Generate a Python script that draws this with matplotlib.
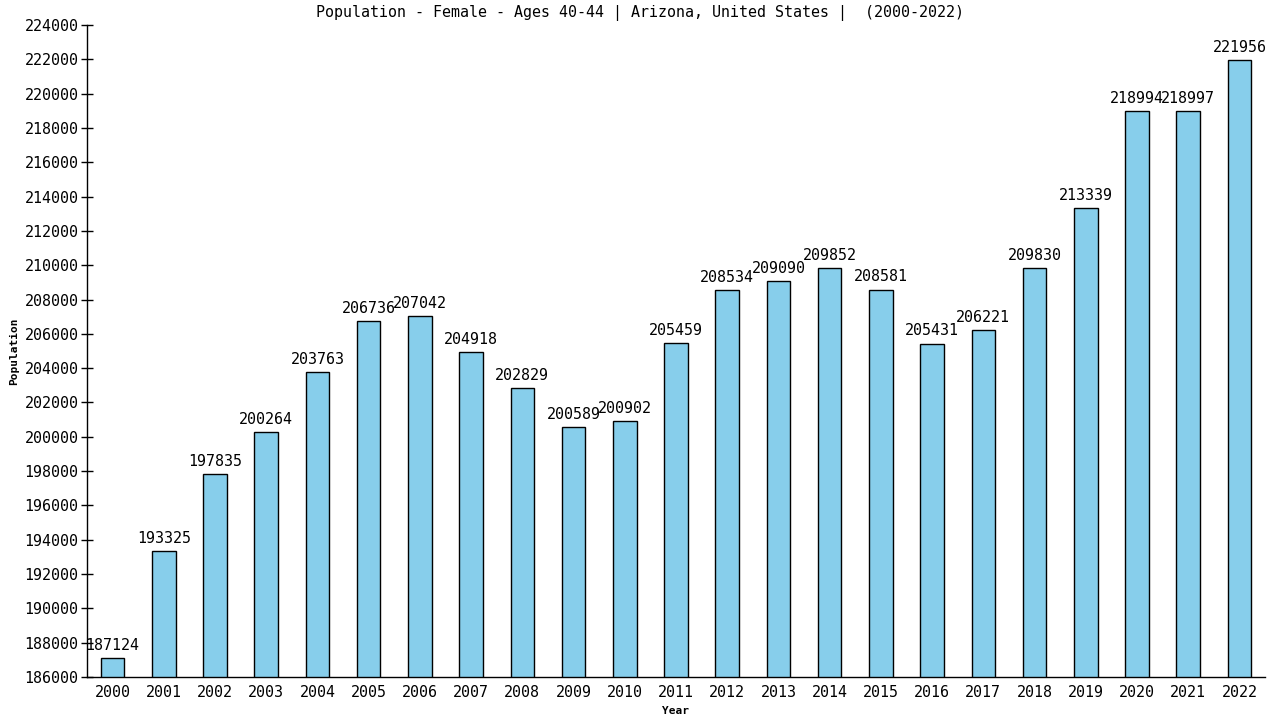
import matplotlib
matplotlib.use("Agg")
import matplotlib.pyplot as plt

years = [str(y) for y in range(2000, 2023)]
values = [187124, 193325, 197835, 200264, 203763, 206736, 207042, 204918, 202829,
          200589, 200902, 205459, 208534, 209090, 209852, 208581, 205431, 206221,
          209830, 213339, 218994, 218997, 221956]
yticks = list(range(186000, 224001, 2000))

plt.rcParams['font.family'] = ['DejaVu Sans Mono', 'DejaVu Sans']

fig = plt.figure(figsize=(12.8, 7.2), dpi=100)
ax = fig.add_axes([87/1280, 43/720, (1265-87)/1280, (677-25)/720])

x = list(range(len(years)))
ax.bar(x, values, width=0.46, color='#87CEEB', edgecolor='black', linewidth=1.0, zorder=2)
for xi, v in zip(x, values):
    ax.text(xi, v + 300, str(v), ha='center', va='bottom', fontsize=10.8, color='black')

ax.set_xlim(-0.5, len(years) - 0.5)
ax.set_ylim(186000, 224000)
ax.set_yticks(yticks)
ax.set_yticklabels([str(t) for t in yticks], fontsize=10.8)
ax.set_xticks(x)
ax.set_xticklabels(years, fontsize=10.8)
ax.tick_params(axis='y', direction='inout', length=8, width=1, pad=2)
ax.tick_params(axis='x', length=0, pad=6)
for s in ['top', 'right']:
    ax.spines[s].set_visible(False)
ax.spines['left'].set_linewidth(1)
ax.spines['bottom'].set_linewidth(1)

fig.text(0.5, 1 - 13/720, 'Population - Female - Ages 40-44 | Arizona, United States |  (2000-2022)',
         fontsize=10.8, ha='center', va='center')
ax.set_xlabel('Year', fontsize=8, fontweight='bold', labelpad=4)
ax.set_ylabel('Population', fontsize=8, fontweight='bold', labelpad=4)

fig.savefig('out.png', dpi=100)
